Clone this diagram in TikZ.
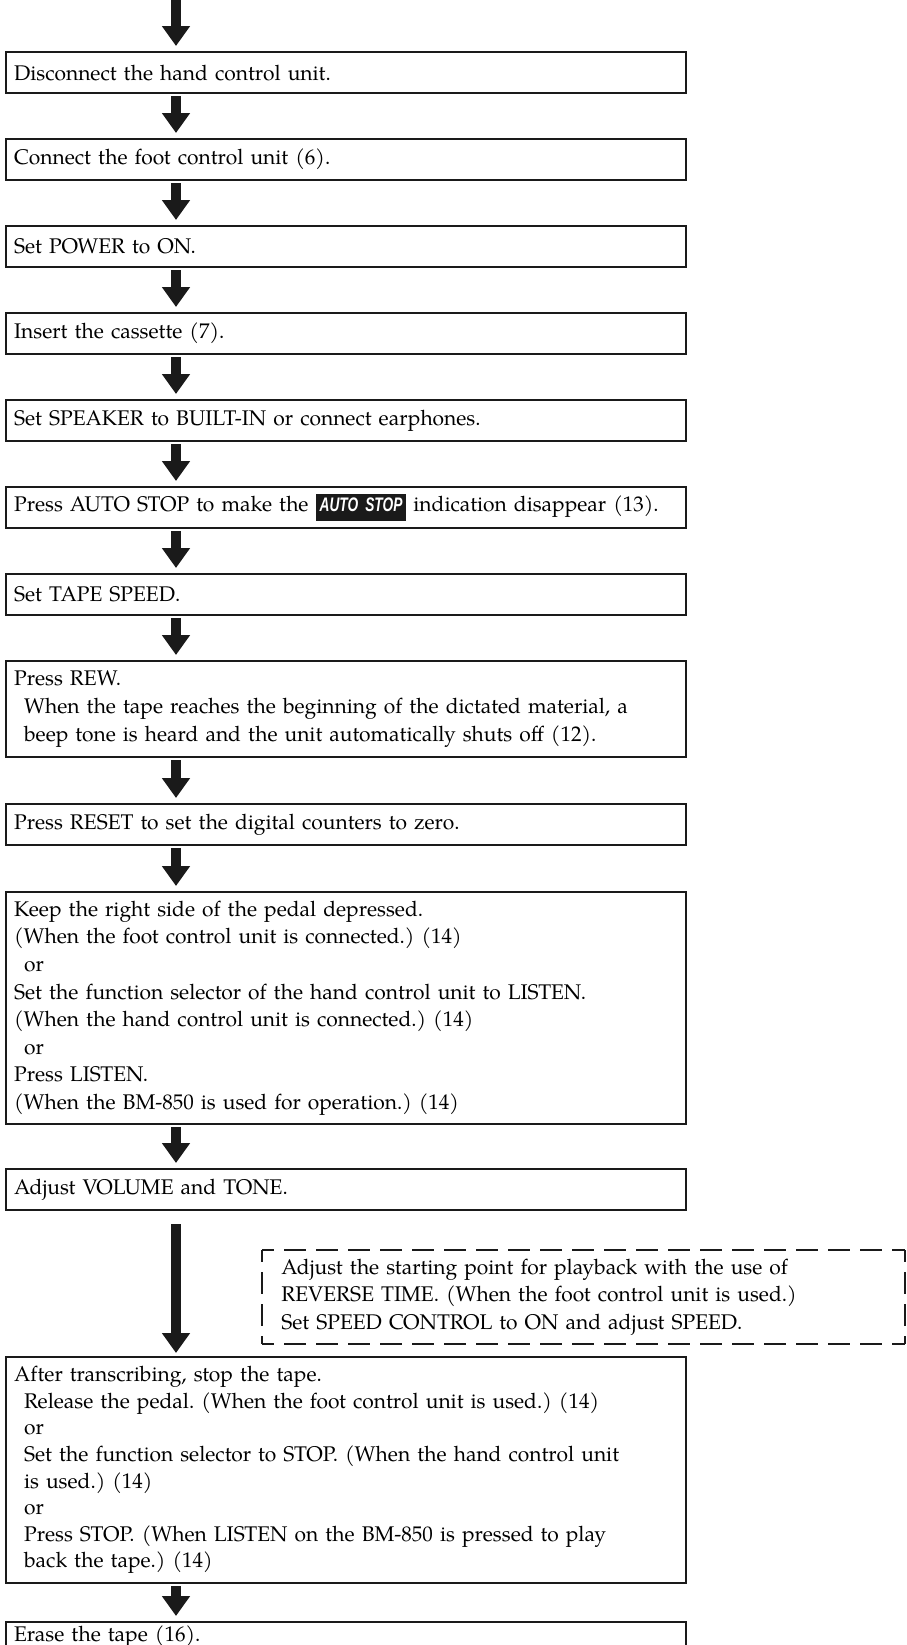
\documentclass[tikz,border=0pt]{standalone}
\usepackage{fontspec}
\setmainfont{TeX Gyre Pagella}[FakeStretch=0.99]
\newfontfamily\badgefont{Liberation Sans}[FakeStretch=0.7]
\usetikzlibrary{arrows.meta,calc}
\definecolor{ink}{HTML}{1A1A1A}
\newcommand{\ind}{\hspace*{5pt}}
\newcommand{\autostopbadge}{{\setlength{\fboxsep}{0.8pt}\colorbox{ink}{\hspace{1.2pt}{\fontsize{9.8pt}{11pt}\badgefont\bfseries\itshape\color{white}\rule[-3.8pt]{0pt}{11.6pt}AUTO STOP}\hspace{1.2pt}}}}
\begin{document}
\frenchspacing
\begin{tikzpicture}[x=0.5pt,y=-0.5pt,
  txt/.style={font=\fontsize{10.6pt}{13.8pt}\selectfont\frenchspacing},
  stepbox/.style={txt, draw=ink, line width=1.1pt, anchor=north west, text width=332pt,
    inner xsep=4pt, inner ysep=0pt, align=left, minimum height=20.5pt},
  notebox/.style={txt, anchor=north west, text width=302pt, inner xsep=9.5pt, inner ysep=0pt,
    align=left, minimum height=46.5pt},
  notedash/.style={draw=ink, line width=1.1pt, dash pattern=on 11pt off 5pt, dash phase=5pt},
  flowarrow/.style={draw=ink, line width=4.8pt, -{Triangle[width=13.5pt,length=10pt]}}]
\useasboundingbox (0,0) rectangle (906,1645);
\coordinate (ax) at (176,0);
\coordinate (start) at (176,-2);

\node[stepbox] (b1) at (5,51) {Disconnect the hand control unit.};
\node[stepbox] (b2) at (5,138) {Connect the foot control unit (6).};
\node[stepbox] (b3) at (5,225) {Set POWER to ON.};
\node[stepbox] (b4) at (5,312) {Insert the cassette (7).};
\node[stepbox] (b5) at (5,399) {Set SPEAKER to BUILT-IN or connect earphones.};
\node[stepbox] (b6) at (5,486) {Press AUTO STOP to make the \autostopbadge{} indication disappear (13).};
\node[stepbox] (b7) at (5,573) {Set TAPE SPEED.};
\node[stepbox, minimum height=48pt] (b8) at (5,660) {Press REW.\\
\ind When the tape reaches the beginning of the dictated material, a\\
\ind beep tone is heard and the unit automatically shuts off (12).};
\node[stepbox] (b9) at (5,803) {Press RESET to set the digital counters to zero.};
\node[stepbox, minimum height=116pt] (b10) at (5,891) {Keep the right side of the pedal depressed.\\
(When the foot control unit is connected.) (14)\\
\ind or\\
Set the function selector of the hand control unit to LISTEN.\\
(When the hand control unit is connected.) (14)\\
\ind or\\
Press LISTEN.\\
(When the BM-850 is used for operation.) (14)};
\node[stepbox] (b11) at (5,1168) {Adjust VOLUME and TONE.};
\node[notebox] (note) at (262,1250) {Adjust the starting point for playback with the use of\\
REVERSE TIME. (When the foot control unit is used.)\\
Set SPEED CONTROL to ON and adjust SPEED.};
\draw[notedash] (note.north west) -- (note.north east);
\draw[notedash] (note.north east) -- (note.south east);
\draw[notedash] (note.south west) -- (note.south east);
\draw[notedash] (note.north west) -- (note.south west);
\node[stepbox, minimum height=113pt, font=\fontsize{10.6pt}{13.3pt}\selectfont\frenchspacing] (b12) at (5,1356) {After transcribing, stop the tape.\\
\ind Release the pedal. (When the foot control unit is used.) (14)\\
\ind or\\
\ind Set the function selector to STOP. (When the hand control unit\\
\ind is used.) (14)\\
\ind or\\
\ind Press STOP. (When LISTEN on the BM-850 is pressed to play\\
\ind back the tape.) (14)};
\node[stepbox, minimum height=14pt] (b13) at (5,1621) {Erase the tape (16).};

\draw[flowarrow] (start) -- ($(b1.north -| ax)+(0,-5)$);
\foreach \a/\b in {b1/b2,b2/b3,b3/b4,b4/b5,b5/b6,b6/b7,b7/b8,b8/b9,b9/b10,b10/b11,b12/b13}
  \draw[flowarrow] ($(\a.south -| ax)+(0,2)$) -- ($(\b.north -| ax)+(0,-5)$);
\draw[flowarrow] ($(b11.south -| ax)+(0,13)$) -- ($(b12.north -| ax)+(0,-3)$);
\end{tikzpicture}
\end{document}
